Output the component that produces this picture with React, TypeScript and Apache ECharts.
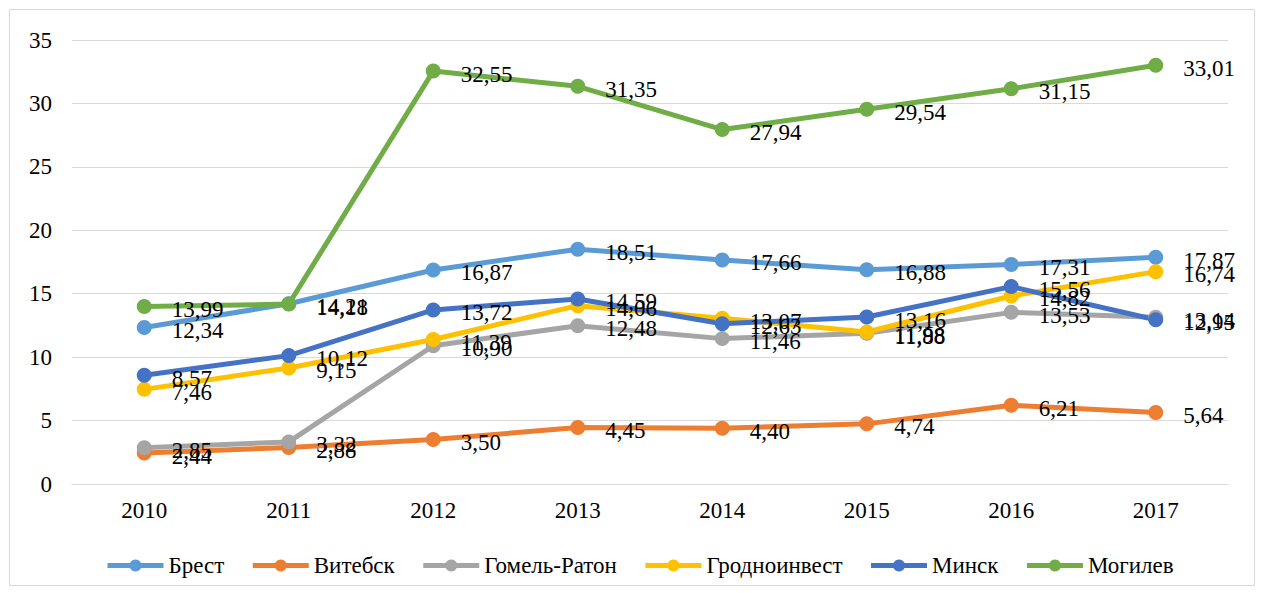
import React, { useEffect, useRef } from "react";
import * as echarts from "echarts";

const years = ["2010", "2011", "2012", "2013", "2014", "2015", "2016", "2017"];
const brest = [12.34, 14.21, 16.87, 18.51, 17.66, 16.88, 17.31, 17.87];
const vitebsk = [2.44, 2.88, 3.5, 4.45, 4.4, 4.74, 6.21, 5.64];
const gomel = [2.85, 3.32, 10.9, 12.48, 11.46, 11.88, 13.53, 13.14];
const grodno = [7.46, 9.15, 11.39, 14.06, 13.07, 11.98, 14.82, 16.74];
const minsk = [8.57, 10.12, 13.72, 14.59, 12.63, 13.16, 15.56, 12.95];
const mogilev = [13.99, 14.18, 32.55, 31.35, 27.94, 29.54, 31.15, 33.01];

const seriesNames = ["Брест", "Витебск", "Гомель-Ратон", "Гродноинвест", "Минск", "Могилев"];
const seriesData = [brest, vitebsk, gomel, grodno, minsk, mogilev];
const colors = ["#5B9BD5", "#ED7D31", "#A5A5A5", "#FFC000", "#4472C4", "#70AD47"];

const FONT = "'Liberation Serif', 'Times New Roman', serif";

export default function App() {
  const ref = useRef<HTMLDivElement>(null);
  useEffect(() => {
    if (!ref.current) return;
    const chart = echarts.init(ref.current, undefined, { renderer: "svg" });
    chart.setOption({
      animation: false,
      color: colors,
      graphic: [
        {
          type: "rect",
          shape: { x: 1.5, y: 1.5, width: 1245, height: 576 },
          style: { fill: "none", stroke: "#D9D9D9", lineWidth: 1 },
          silent: true,
        },
      ],
      grid: { left: 64, right: 28, top: 32, bottom: 104 },
      legend: {
        top: 541,
        left: 92,
        itemWidth: 56,
        itemHeight: 15,
        itemGap: 26,
        lineStyle: { width: 5 },
        textStyle: { fontFamily: FONT, fontSize: 23, color: "#000" },
        data: seriesNames,
      },
      xAxis: {
        type: "category",
        data: years,
        boundaryGap: true,
        axisLine: { show: true, lineStyle: { color: "#D9D9D9", width: 1 } },
        axisTick: { show: false },
        axisLabel: { fontFamily: FONT, fontSize: 23, color: "#000", margin: 15 },
      },
      yAxis: {
        type: "value",
        min: 0,
        max: 35,
        interval: 5,
        axisLine: { show: false },
        axisTick: { show: false },
        splitLine: { lineStyle: { color: "#D9D9D9", width: 1 } },
        axisLabel: { fontFamily: FONT, fontSize: 23, color: "#000", margin: 20 },
      },
      series: seriesNames.map((name, i) => ({
        name,
        type: "line",
        data: seriesData[i],
        symbol: "circle",
        symbolSize: 15,
        lineStyle: { width: 5, color: colors[i] },
        itemStyle: { color: colors[i] },
        label: {
          show: true,
          position: "right",
          distance: 20,
          offset: [0, 3],
          fontFamily: FONT,
          fontSize: 23,
          color: "#000",
          formatter: (p: any) => Number(p.value).toFixed(2).replace(".", ","),
        },
      })),
    });
    return () => chart.dispose();
  }, []);
  return <div ref={ref} style={{ width: 1248, height: 580 }} />;
}
